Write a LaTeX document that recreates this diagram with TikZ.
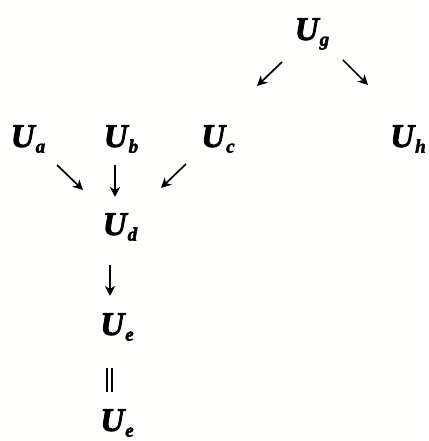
\documentclass[tikz,border=0pt]{standalone}
\usepackage{fontspec}
\newfontfamily\ufont{Liberation Serif Bold Italic}[FakeBold=2.5]
\usetikzlibrary{arrows.meta}
\definecolor{bgpaper}{RGB}{255,255,254}
\newcommand{\ulab}[1]{\ufont U\kern1pt\raisebox{-0.17em}{\fontsize{19pt}{19pt}\selectfont #1}}
\tikzset{
  lbl/.style={anchor=base, inner sep=0pt, font=\fontsize{33pt}{33pt}\selectfont},
  arr/.style={line width=1.7pt, -{Stealth[length=10pt,width=10pt,inset=3pt]}},
  eqline/.style={line width=1.5pt}
}
\begin{document}
\begin{tikzpicture}[x=1pt,y=1pt]
\fill[bgpaper] (0,0) rectangle (428,441);
\useasboundingbox (0,0) rectangle (428,441);
\node[lbl] (ug) at (312,401) {\ulab{g}};
\node[lbl] (ua) at (28,294) {\ulab{a}};
\node[lbl] (ub) at (121,294) {\ulab{b}};
\node[lbl] (uc) at (218,294) {\ulab{c}};
\node[lbl] (uh) at (408,294) {\ulab{h}};
\node[lbl] (ud) at (120,206) {\ulab{d}};
\node[lbl] (ue) at (117,106) {\ulab{e}};
\node[lbl] (uf) at (117,10) {\ulab{e}};
\draw[arr] ([shift={(-30,-22)}]ug.base) -- ([shift={(39,61)}]uc.base);
\draw[arr] ([shift={(31,-20)}]ug.base) -- ([shift={(-40,62)}]uh.base);
\draw[arr] ([shift={(29,-18)}]ua.base) -- ([shift={(-37,45)}]ud.base);
\draw[arr] ([shift={(-6,-18)}]ub.base) -- ([shift={(-5,38)}]ud.base);
\draw[arr] ([shift={(-32,-17)}]uc.base) -- ([shift={(41,47)}]ud.base);
\draw[arr] ([shift={(-10,-30)}]ud.base) -- ([shift={(-7,39)}]ue.base);
\draw[eqline] ([shift={(-10,-33)}]ue.base) -- ([shift={(-10,39)}]uf.base);
\draw[eqline] ([shift={(-5,-33)}]ue.base) -- ([shift={(-5,39)}]uf.base);
\end{tikzpicture}
\end{document}
